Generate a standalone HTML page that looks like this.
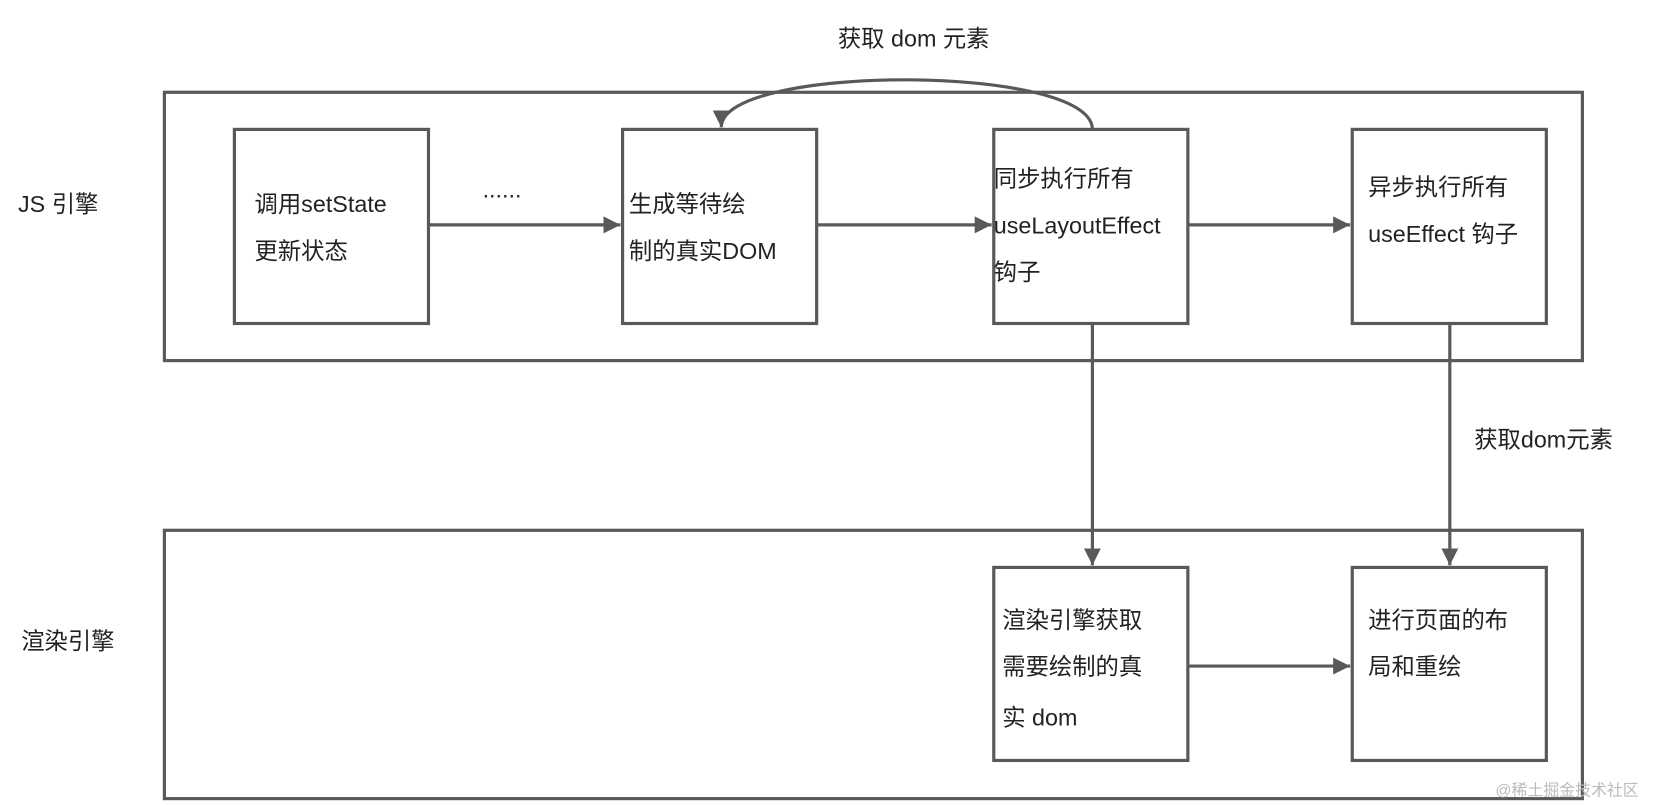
<!DOCTYPE html>
<html><head><meta charset="utf-8"><style>
html,body{margin:0;padding:0;background:#fff;}
svg{display:block;}
text{font-family:"Liberation Sans","Noto Sans CJK SC",sans-serif;font-size:22px;fill:#222;}
</style></head><body>
<svg width="1663" height="805" viewBox="0 0 1568 759" xmlns="http://www.w3.org/2000/svg">
<defs><marker id="a" markerWidth="10" markerHeight="10" refX="9" refY="5" orient="auto" markerUnits="userSpaceOnUse"><path d="M0,0 L14,5 L0,10 Z" fill="#595959" transform="scale(0.72,1)"/></marker>
<marker id="b" viewBox="0 0 10 10" markerWidth="16" markerHeight="16" refX="10" refY="5" orient="auto" markerUnits="userSpaceOnUse"><path d="M0,0 L10,5 L0,10 Z" fill="#595959"/></marker></defs>
<g fill="none" stroke="#595959" stroke-width="3">
<rect x="155" y="87" width="1337" height="253"/>
<rect x="155" y="500" width="1337" height="253"/>
<rect x="221" y="122" width="183" height="183"/>
<rect x="587" y="122" width="183" height="183"/>
<rect x="937" y="122" width="183" height="183"/>
<rect x="1275" y="122" width="183" height="183"/>
<rect x="937" y="535" width="183" height="182"/>
<rect x="1275" y="535" width="183" height="182"/>
<line x1="404" y1="212" x2="585" y2="212" marker-end="url(#b)"/>
<line x1="770" y1="212" x2="935" y2="212" marker-end="url(#b)"/>
<line x1="1120" y1="212" x2="1273" y2="212" marker-end="url(#b)"/>
<line x1="1120" y1="628" x2="1273" y2="628" marker-end="url(#b)"/>
<line x1="1030" y1="305" x2="1030" y2="533" marker-end="url(#b)"/>
<line x1="1367" y1="305" x2="1367" y2="533" marker-end="url(#b)"/>
<path d="M1030,122 C1030,60 680,60 680,120" marker-end="url(#b)"/>
</g>
<text x="790" y="44">获取 dom 元素</text>
<text x="17" y="200">JS 引擎</text>
<text x="20" y="612">渲染引擎</text>
<text x="455" y="186">......</text>
<text x="240" y="200">调用setState</text>
<text x="240" y="244">更新状态</text>
<text x="593" y="200">生成等待绘</text>
<text x="593" y="244">制的真实DOM</text>
<text x="937" y="176">同步执行所有</text>
<text x="937" y="220">useLayoutEffect</text>
<text x="937" y="264">钩子</text>
<text x="1290" y="184">异步执行所有</text>
<text x="1290" y="228">useEffect 钩子</text>
<text x="1390" y="422">获取dom元素</text>
<text x="945" y="592">渲染引擎获取</text>
<text x="945" y="636">需要绘制的真</text>
<text x="945" y="684">实 dom</text>
<text x="1290" y="592">进行页面的布</text>
<text x="1290" y="636">局和重绘</text>
<text x="1410" y="750" style="font-size:15px;fill:#bbb">@稀土掘金技术社区</text>
</svg>
</body></html>
